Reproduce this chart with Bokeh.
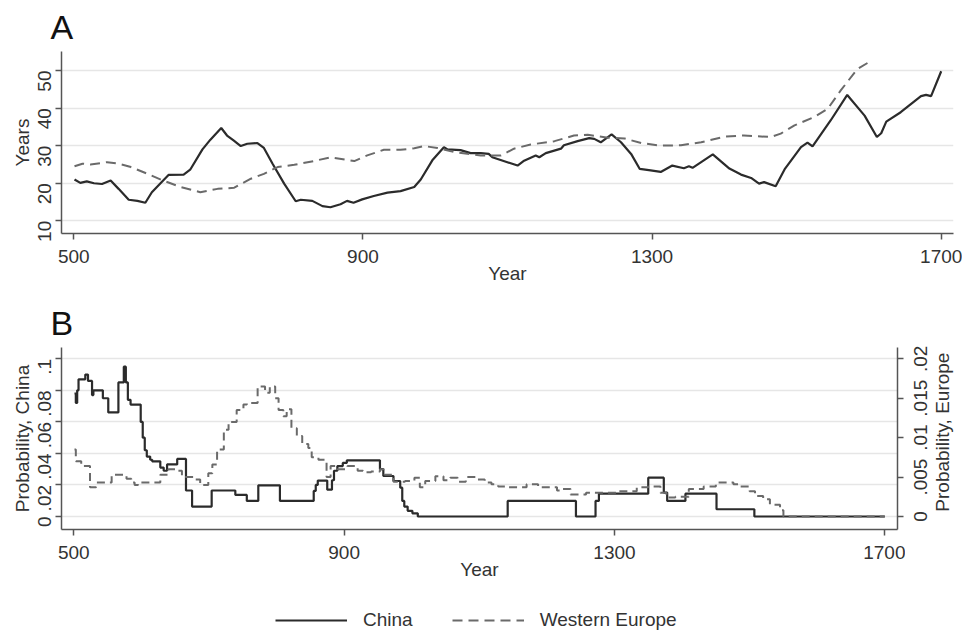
import math
from bokeh.plotting import figure
from bokeh.models import (Range1d, LinearAxis, FixedTicker, Legend, LegendItem,
                          CustomJSTickFormatter)
from bokeh.core.properties import value
from bokeh.layouts import column, row
from bokeh.embed import file_html
from bokeh.resources import INLINE

FONT = "Liberation Sans"
TXT = "#333333"
AXC = "#555555"
GRID = "#e6e6e6"
CHINA_C = "#2b2b2b"
EU_C = "#6a6a6a"

# ---------------- Panel A data: years (average duration) ----------------
china_a_year = [501, 509, 518, 528, 539, 551, 562, 576, 588, 599, 608, 620, 631, 652, 661,
                678, 689, 704, 712, 721, 731, 740, 754, 763, 775, 791, 807, 814, 830, 844,
                855, 869, 878, 887, 899, 915, 934, 952, 971, 980, 996, 1012, 1017, 1035,
                1049, 1063, 1074, 1079, 1114, 1123, 1139, 1144, 1153, 1174, 1178, 1197,
                1213, 1220, 1229, 1244, 1257, 1271, 1283, 1298, 1312, 1328, 1344, 1351,
                1356, 1384, 1407, 1423, 1437, 1448, 1455, 1471, 1484, 1506, 1515, 1522,
                1547, 1570, 1594, 1611, 1617, 1624, 1644, 1672, 1679, 1686, 1700]
china_a_val = [21.0, 20.1, 20.5, 20.0, 19.8, 20.7, 18.5, 15.6, 15.3, 14.8, 17.6, 20.0, 22.2,
               22.3, 23.6, 29.0, 31.6, 34.7, 32.7, 31.4, 29.9, 30.5, 30.7, 29.4, 25.2, 19.9,
               15.2, 15.6, 15.3, 13.9, 13.6, 14.4, 15.3, 14.8, 15.7, 16.6, 17.5, 17.9, 19.0,
               21.0, 26.1, 29.6, 29.0, 28.8, 28.0, 28.0, 27.8, 26.9, 24.7, 26.0, 27.4, 26.9,
               28.0, 29.2, 30.1, 31.2, 32.0, 31.8, 30.9, 33.0, 30.9, 27.8, 23.8, 23.4, 23.0,
               24.7, 24.0, 24.5, 24.1, 27.7, 23.9, 22.3, 21.4, 19.9, 20.3, 19.2, 23.9, 29.6,
               30.8, 29.8, 36.7, 43.5, 38.0, 32.3, 33.3, 36.4, 38.9, 43.2, 43.5, 43.2, 49.8]

europe_a_year = [501, 512, 523, 546, 562, 579, 602, 625, 648, 675, 699, 722, 745, 763, 782,
                 805, 832, 855, 888, 906, 929, 952, 971, 984, 1003, 1026, 1054, 1063, 1091,
                 1109, 1132, 1165, 1192, 1211, 1239, 1262, 1285, 1312, 1340, 1368, 1400,
                 1427, 1464, 1478, 1497, 1524, 1543, 1561, 1584, 1598]
europe_a_val = [24.5, 25.2, 25.0, 25.6, 25.2, 24.3, 22.5, 20.6, 19.0, 17.6, 18.5, 18.8, 21.2,
                22.5, 24.3, 24.9, 25.9, 26.9, 25.9, 27.4, 28.9, 28.9, 29.3, 29.9, 29.4, 28.3,
                27.6, 27.4, 27.4, 29.2, 30.3, 31.2, 32.7, 32.9, 32.1, 31.9, 30.7, 30.0, 30.1,
                30.9, 32.4, 32.7, 32.3, 33.2, 35.4, 37.6, 39.8, 44.7, 50.4, 52.0]

# ---------------- Panel B data: probabilities (step series) ----------------
china_b_year = [501, 503, 505, 507, 517, 521, 527, 529, 543, 551, 566, 574, 577, 580, 584,
                597, 599, 602, 605, 608, 613, 616, 628, 633, 638, 653, 666, 675, 704, 739,
                756, 773, 805, 855, 858, 861, 875, 882, 885, 890, 898, 904, 953, 958, 973,
                983, 986, 989, 994, 1001, 1009, 1142, 1243, 1272, 1277, 1350, 1373, 1378,
                1405, 1451, 1507, 1700]
china_b_val = [0.078, 0.072, 0.080, 0.087, 0.090, 0.086, 0.077, 0.080, 0.075, 0.066, 0.085,
               0.095, 0.085, 0.074, 0.071, 0.071, 0.060, 0.050, 0.042, 0.038, 0.036, 0.035,
               0.031, 0.029, 0.033, 0.0365, 0.0165, 0.0063, 0.0165, 0.0137, 0.0099, 0.0198,
               0.0099, 0.0162, 0.0200, 0.0228, 0.0170, 0.0230, 0.0290, 0.0320, 0.0340, 0.0356,
               0.0300, 0.0257, 0.0225, 0.0183, 0.0099, 0.0063, 0.0036, 0.0020, 0.0, 0.0099,
               0.0, 0.0099, 0.0145, 0.0246, 0.0152, 0.0099, 0.0145, 0.0046, 0.0, 0.0]

europe_b_year = [501, 503, 511, 524, 533, 556, 578, 585, 590, 595, 628, 640, 650, 660, 677,
                 687, 699, 705, 712, 722, 729, 741, 751, 756, 772, 783, 790, 798, 803, 810,
                 815, 822, 830, 838, 847, 852, 862, 874, 880, 890, 905, 920, 928, 940, 953,
                 960, 973, 990, 1004, 1012, 1020, 1035, 1047, 1057, 1068, 1080, 1096, 1108,
                 1118, 1128, 1142, 1155, 1170, 1187, 1215, 1222, 1235, 1258, 1306, 1333,
                 1350, 1368, 1377, 1390, 1410, 1432, 1450, 1476, 1483, 1500, 1508, 1520,
                 1530, 1545, 1550, 1700]
europe_b_val = [0.0085, 0.0070, 0.0064, 0.0037, 0.0043, 0.0053, 0.0048, 0.0043, 0.0040,
                0.0043, 0.0053, 0.0060, 0.0058, 0.0050, 0.0047, 0.0040, 0.0055, 0.0066,
                0.0085, 0.0110, 0.0120, 0.0135, 0.0142, 0.0144, 0.0165, 0.0157, 0.0165,
                0.0150, 0.0135, 0.0127, 0.0136, 0.0112, 0.0102, 0.0092, 0.0087, 0.0075,
                0.0072, 0.0050, 0.0064, 0.0060, 0.0064, 0.0058, 0.0056, 0.0057, 0.0060,
                0.0053, 0.0044, 0.0045, 0.0049, 0.0037, 0.0045, 0.0051, 0.0046, 0.0049,
                0.0044, 0.0050, 0.0047, 0.0043, 0.0041, 0.0038, 0.0037, 0.0037, 0.0041,
                0.0037, 0.0033, 0.0035, 0.0028, 0.0030, 0.0032, 0.0037, 0.0038, 0.0030,
                0.0024, 0.0025, 0.0035, 0.0038, 0.0043, 0.0041, 0.0038, 0.0032, 0.0026,
                0.0022, 0.0015, 0.0008, 0.0, 0.0]

x_ticks = [500, 900, 1300, 1700]
a_y_ticks = [10, 20, 30, 40, 50]
b_china_ticks = [0, 0.02, 0.04, 0.06, 0.08, 0.1]
b_europe_ticks = [0, 0.005, 0.01, 0.015, 0.02]
b_europe_tick_labels = ["0", ".005", ".01", ".015", ".02"]

FMT_CODE = "return String(tick).replace(/^0\\./, '.');"


def style_axis(ax, label):
    ax.axis_label = label
    ax.axis_line_color = AXC
    ax.axis_line_width = 1.5
    ax.major_tick_line_color = AXC
    ax.major_tick_line_width = 1.5
    ax.major_tick_out = 6
    ax.major_tick_in = 0
    ax.minor_tick_line_color = None
    ax.major_label_text_font = FONT
    ax.major_label_text_font_size = "19px"
    ax.major_label_text_color = TXT
    ax.axis_label_text_font = FONT
    ax.axis_label_text_font_size = "19px"
    ax.axis_label_text_font_style = "normal"
    ax.axis_label_text_color = TXT


def style_title(p):
    p.title.text_font = FONT
    p.title.text_font_size = "34px"
    p.title.text_font_style = "normal"
    p.title.text_color = "#111111"
    p.title.align = "left"
    p.title.offset = -11
    p.title.standoff = 11


# ---------------- Figure A ----------------
pA = figure(width=962, height=290, title="A",
            x_range=Range1d(483.0, 1717.0), y_range=Range1d(6.62, 55.06),
            output_backend="svg", toolbar_location=None,
            min_border_left=61, min_border_right=9, min_border_top=51, min_border_bottom=57)
pA.frame_align = False
pA.outline_line_color = None
pA.xgrid.visible = False
pA.ygrid.grid_line_color = GRID
pA.ygrid.grid_line_width = 1.5
style_title(pA)
style_axis(pA.xaxis[0], "Year")
style_axis(pA.yaxis[0], "Years")
pA.xaxis[0].ticker = FixedTicker(ticks=x_ticks)
pA.yaxis[0].ticker = FixedTicker(ticks=a_y_ticks)
pA.yaxis[0].major_label_orientation = math.pi / 2
pA.xaxis[0].major_label_standoff = 10
pA.xaxis[0].axis_label_standoff = -3
pA.yaxis[0].major_label_standoff = 11
pA.yaxis[0].axis_label_standoff = -4

pA.line(china_a_year, china_a_val, line_color=CHINA_C, line_width=2.2)
pA.line(europe_a_year, europe_a_val, line_color=EU_C, line_width=2, line_dash="10 6")

# ---------------- Figure B ----------------
pB = figure(width=905, height=310, title="B",
            x_range=Range1d(481.8, 1718.8), y_range=Range1d(-0.00824, 0.10717),
            output_backend="svg", toolbar_location=None,
            min_border_left=61, min_border_right=8, min_border_top=57, min_border_bottom=71)
pB.frame_align = False
pB.extra_y_ranges = {"eu": Range1d(-0.001648, 0.021434)}
pB.outline_line_color = None
pB.xgrid.visible = False
pB.ygrid.grid_line_color = GRID
pB.ygrid.grid_line_width = 1.5
style_title(pB)
style_axis(pB.xaxis[0], "Year")
style_axis(pB.yaxis[0], "Probability, China")
pB.xaxis[0].ticker = FixedTicker(ticks=x_ticks)
pB.yaxis[0].ticker = FixedTicker(ticks=b_china_ticks)
pB.yaxis[0].formatter = CustomJSTickFormatter(code=FMT_CODE)
pB.yaxis[0].major_label_orientation = math.pi / 2
pB.xaxis[0].major_label_standoff = 10
pB.xaxis[0].axis_label_standoff = -3
pB.yaxis[0].major_label_standoff = 11
pB.yaxis[0].axis_label_standoff = -4

rax = LinearAxis(y_range_name="eu", ticker=FixedTicker(ticks=b_europe_ticks))
style_axis(rax, "")
rax.major_label_text_font_size = "0px"
rax.major_label_text_color = None
rax.major_label_standoff = 0
pB.add_layout(rax, "right")

pB.step(china_b_year, china_b_val, mode="after", line_color=CHINA_C, line_width=2.2)
pB.step(europe_b_year, europe_b_val, mode="after", y_range_name="eu",
        line_color=EU_C, line_width=2, line_dash="8 5")

# ---------------- right-axis texts (read bottom to top, as in the reference) ----------------
pD = figure(width=57, height=310, x_range=Range1d(0, 57), y_range=Range1d(-0.001649, 0.023589),
            output_backend="svg", toolbar_location=None,
            x_axis_type=None, y_axis_type=None,
            min_border_left=0, min_border_right=0, min_border_top=40, min_border_bottom=71)
pD.frame_align = False
pD.outline_line_color = None
pD.xgrid.visible = False
pD.ygrid.visible = False
pD.text(x=[15] * len(b_europe_ticks), y=b_europe_ticks, text=b_europe_tick_labels,
        angle=math.pi / 2, text_align="center", text_baseline="middle",
        text_font=value(FONT), text_font_size=value("19px"), text_color=TXT)
pD.text(x=[36.7], y=[0.0107], text=["Probability, Europe"],
        angle=math.pi / 2, text_align="center", text_baseline="middle",
        text_font=value(FONT), text_font_size=value("19px"), text_color=TXT)

# ---------------- Legend strip ----------------
nan = float("nan")
pC = figure(width=962, height=32, x_range=Range1d(0, 1), y_range=Range1d(0, 1),
            output_backend="svg", toolbar_location=None,
            x_axis_type=None, y_axis_type=None, min_border=0)
pC.frame_align = False
pC.outline_line_color = None
pC.xgrid.visible = False
pC.ygrid.visible = False
rc = pC.line(x=[0, 1], y=[nan, nan], line_color=CHINA_C, line_width=2.2)
re = pC.line(x=[0, 1], y=[nan, nan], line_color=EU_C, line_width=2, line_dash="10 6")
leg = Legend(items=[LegendItem(label="China", renderers=[rc]),
                    LegendItem(label="Western Europe", renderers=[re])],
             orientation="horizontal", location=(275, 1),
             glyph_width=72, glyph_height=18, label_standoff=16, spacing=39,
             padding=0, margin=0, border_line_color=None, background_fill_alpha=0,
             label_text_font=FONT, label_text_font_size="19px", label_text_color=TXT)
pC.add_layout(leg)

layout = column(pA, row(pB, pD, spacing=0), pC, spacing=0)
open("out.html", "w").write(file_html(layout, INLINE))
